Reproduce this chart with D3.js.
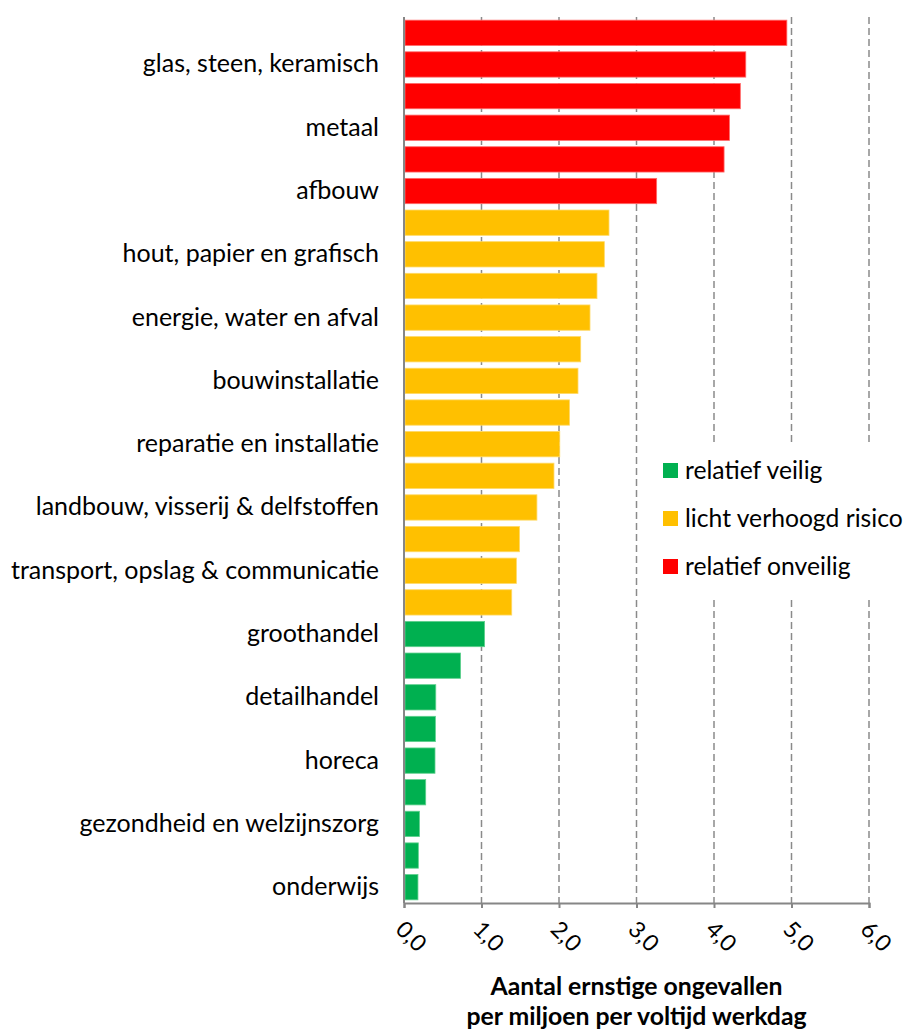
<!DOCTYPE html>
<html>
<head>
<meta charset="utf-8">
<script src="https://cdn.jsdelivr.net/npm/d3@7"></script>
<style>
  html, body { margin: 0; padding: 0; background: #fff; }
  svg { display: block; }
  text { font-family: Lato, "Open Sans", sans-serif; fill: #000; }
</style>
</head>
<body>
<svg id="chart" width="906" height="1030"></svg>
<script>
// Categories (only every second one is labelled in the original)
const categories = [
  "sector 1", "glas, steen, keramisch",
  "sector 3", "metaal",
  "sector 5", "afbouw",
  "sector 7", "hout, papier en grafisch",
  "sector 9", "energie, water en afval",
  "sector 11", "bouwinstallatie",
  "sector 13", "reparatie en installatie",
  "sector 15", "landbouw, visserij & delfstoffen",
  "sector 17", "transport, opslag & communicatie",
  "sector 19", "groothandel",
  "sector 21", "detailhandel",
  "sector 23", "horeca",
  "sector 25", "gezondheid en welzijnszorg",
  "sector 27", "onderwijs"
];
const values = [
  4.94, 4.41, 4.34, 4.20, 4.13, 3.26,
  2.645, 2.585, 2.49, 2.40, 2.28, 2.245, 2.135, 2.01, 1.935, 1.715, 1.49, 1.45, 1.39,
  1.04, 0.73, 0.41, 0.405, 0.40, 0.28, 0.20, 0.185, 0.18
];
// risk class per bar: 0 = relatief veilig, 1 = licht verhoogd risico, 2 = relatief onveilig
const riskClass = [
  2, 2, 2, 2, 2, 2,
  1, 1, 1, 1, 1, 1, 1, 1, 1, 1, 1, 1, 1,
  0, 0, 0, 0, 0, 0, 0, 0, 0
];
const legendLabels = ["relatief veilig", "licht verhoogd risico", "relatief onveilig"];
const legendColors = ["#00B050", "#FFC000", "#FF0000"];
const strokeColors = ["#5fd08e", "#ffd966", "#ff6b6b"];
const xTicks = [0, 1, 2, 3, 4, 5, 6];
const xTickLabels = ["0,0", "1,0", "2,0", "3,0", "4,0", "5,0", "6,0"];
const axisTitle = ["Aantal ernstige ongevallen", "per miljoen per voltijd werkdag"];

const svg = d3.select("#chart");
const pLeft = 404, pRight = 869, pTop = 17, pBottom = 903;

const x = d3.scaleLinear().domain([0, 6]).range([pLeft, pRight]);
const y = d3.scaleBand().domain(categories).range([pTop, pBottom]).paddingInner(0.2).paddingOuter(0.1);

// gridlines
svg.append("g").selectAll("line").data(xTicks.slice(1)).join("line")
  .attr("x1", d => x(d)).attr("x2", d => x(d))
  .attr("y1", pTop).attr("y2", pBottom)
  .attr("stroke", "#8a8a8a").attr("stroke-width", 1.5)
  .attr("stroke-dasharray", "7,4");

// bars
svg.append("g").selectAll("rect").data(values).join("rect")
  .attr("x", x(0) + 1)
  .attr("y", (d, i) => y(categories[i]))
  .attr("width", d => x(d) - x(0) - 1)
  .attr("height", y.bandwidth())
  .attr("fill", (d, i) => legendColors[riskClass[i]])
  .attr("stroke", (d, i) => strokeColors[riskClass[i]])
  .attr("stroke-width", 0.8);

// x axis (bottom)
const xAxis = d3.axisBottom(x).tickValues(xTicks).tickSize(5).tickFormat("");
const gx = svg.append("g").attr("transform", `translate(0,${pBottom})`).call(xAxis);
gx.select(".domain").attr("stroke", "#868686").attr("stroke-width", 2);
gx.selectAll(".tick line").attr("stroke", "#868686").attr("stroke-width", 2);

// rotated tick labels
svg.append("g").selectAll("text").data(xTicks).join("text")
  .attr("transform", d => `translate(${x(d) - 4},${925}) rotate(45)`)
  .attr("text-anchor", "start")
  .attr("dy", "0.35em")
  .style("font-size", "23px")
  .text((d, i) => xTickLabels[i]);

// y axis line
svg.append("line")
  .attr("x1", pLeft).attr("x2", pLeft).attr("y1", pTop).attr("y2", pBottom)
  .attr("stroke", "#868686").attr("stroke-width", 2);

// y labels (every second category)
const yAxis = d3.axisLeft(y)
  .tickValues(categories.filter((c, i) => i % 2 === 1))
  .tickSize(0).tickPadding(25);
const gy = svg.append("g").attr("transform", `translate(${pLeft},0)`).call(yAxis);
gy.select(".domain").remove();
gy.selectAll("text").style("font-size", "25px").style("font-family", "Lato, sans-serif").attr("fill", "#000");

// legend
const lg = svg.append("g");
lg.append("rect").attr("x", 650).attr("y", 446).attr("width", 256).attr("height", 151).attr("fill", "#fff");
const items = lg.selectAll("g").data(legendLabels).join("g")
  .attr("transform", (d, i) => `translate(663,${463 + i * 48})`);
items.append("rect").attr("width", 15).attr("height", 15)
  .attr("fill", (d, i) => legendColors[i]);
items.append("text").attr("x", 22).attr("y", 7.5).attr("dy", "0.35em")
  .style("font-size", "24.7px").text(d => d);

// axis title
svg.append("g").selectAll("text").data(axisTitle).join("text")
  .attr("x", (pLeft + pRight) / 2)
  .attr("y", (d, i) => 986 + i * 30)
  .attr("text-anchor", "middle").attr("dy", "0.35em")
  .style("font-size", "24.8px").style("font-weight", "bold")
  .text(d => d);
</script>
</body>
</html>
